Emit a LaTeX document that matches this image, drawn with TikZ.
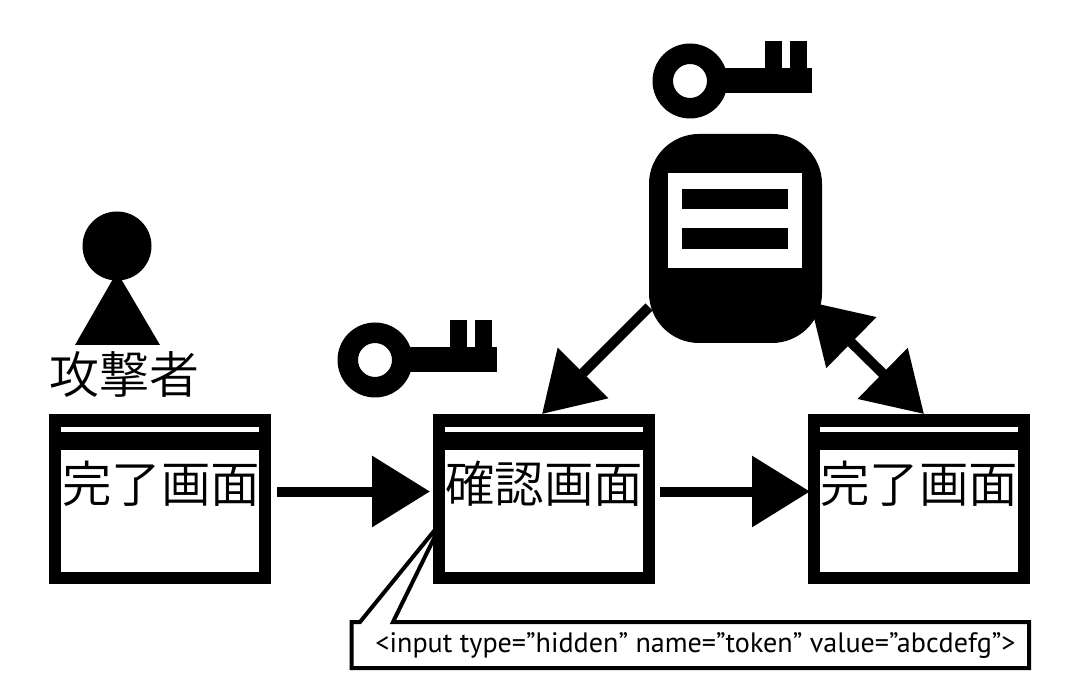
\documentclass[tikz,border=0pt]{standalone}
\usepackage{fontspec}
\setmainfont{PT Sans}
\newfontfamily\cjkf{Noto Sans CJK JP DemiLight}
\usetikzlibrary{arrows.meta}
\tikzset{
  x=1pt,y=-1pt,
  winbox/.style={draw=black,fill=white,line width=12pt,outer sep=0pt,inner sep=0pt,minimum width=210pt,minimum height=158pt},
  cjklabel/.style={inner sep=0pt,font=\cjkf\fontsize{49.5}{49.5}\selectfont},
  flow/.style={line width=10pt,-{Triangle[length=58pt,width=69pt]}},
  flowboth/.style={line width=10pt,{Triangle[length=58pt,width=69pt]}-{Triangle[length=58pt,width=69pt]}},
  keyicon/.pic={
    \fill[even odd rule] (0,0) circle[radius=37.5pt] (0,0) circle[radius=17pt];
    \fill (30,-13) rectangle (122,12);
    \fill (75,-39.5) rectangle (92,-12);
    \fill (100,-39.5) rectangle (117,-12);
  }
}
\newcommand{\titlebar}[1]{%
  \fill[black] ([yshift=6pt]#1.north west) rectangle ([yshift=-30pt]#1.north east);
  \fill[white] ([xshift=6pt,yshift=-7pt]#1.north west) rectangle ([xshift=-6pt,yshift=-12pt]#1.north east);
}
\begin{document}
\begin{tikzpicture}
\useasboundingbox (0,0) rectangle (1079,692);

% callout
\draw[line width=4pt,fill=white,miter limit=20]
  (443,520) -- (360,622) -- (351.5,622) -- (351.5,668) -- (1029,668) -- (1029,622) -- (393,622) -- cycle;
\node[inner sep=0pt,font=\fontsize{28.1}{28}\selectfont] (code) at (695.5,646) {<input type=”hidden” name=”token” value=”abcdefg”>};

% windows
\node[winbox] (w1) at (160,499) {};
\node[winbox] (w2) at (544,499) {};
\node[winbox] (w3) at (919,499) {};
\titlebar{w1}\titlebar{w2}\titlebar{w3}
\node[cjklabel] (l1) at (161,484) {完了画面};
\node[cjklabel] (l2) at (544,484) {確認画面};
\node[cjklabel] (l3) at (919,484) {完了画面};

% person
\node[circle,fill=black,inner sep=0pt,minimum size=69pt] (head) at (117,246) {};
\fill (117,272) -- (160,345) -- (75,345) -- cycle;
\node[cjklabel,font=\cjkf\fontsize{50}{50}\selectfont] (atk) at (124,374.5) {攻撃者};

% keys
\pic at (690,81) {keyicon};
\pic at (375,360) {keyicon};

% server
\node[fill=black,rounded corners=50pt,minimum width=173pt,minimum height=209pt,inner sep=0pt,outer sep=0pt] (srv) at (735.5,238.5) {};
\fill[white] (668,173) rectangle (802,268);
\fill (682,189) rectangle (788,209.5);
\fill (682,228) rectangle (788,249);

% connectors
\coordinate (a1s) at (277,491.5);
\coordinate (a1e) at (430,491.5);
\coordinate (a2s) at (660,491.5);
\coordinate (a2e) at (810,491.5);
\coordinate (a3s) at (649,307);
\coordinate (a3e) at (542,414);
\coordinate (a4s) at (810,302);
\coordinate (a4e) at (924,414);
\draw[flow] (a1s) -- (a1e);
\draw[flow] (a2s) -- (a2e);
\draw[flow] (a3s) -- (a3e);
\draw[flowboth] (a4s) -- (a4e);
\end{tikzpicture}
\end{document}
